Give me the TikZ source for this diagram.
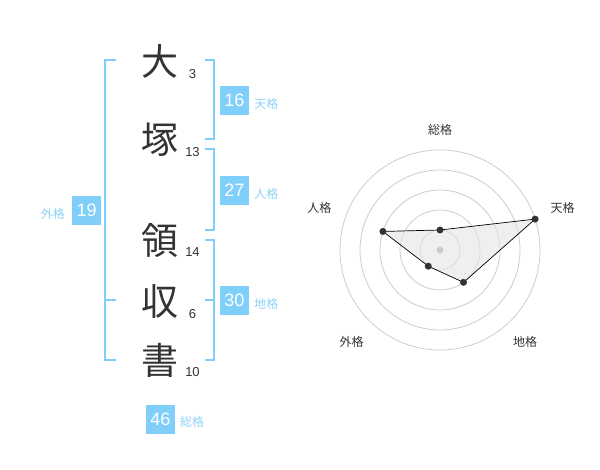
\documentclass[tikz,border=0pt]{standalone}
\usepackage{fontspec}
\setmainfont{Liberation Sans}
\newfontfamily\cjk{Noto Sans CJK JP}
\usetikzlibrary{positioning}
\definecolor{kakublue}{HTML}{80CFFB}
\definecolor{kakutext}{HTML}{8ED2F6}
\definecolor{ringgray}{HTML}{CCCCCC}
\definecolor{inkgray}{HTML}{333333}

\tikzset{
  kanji/.style={font=\cjk\fontsize{37}{37}\selectfont, text=inkgray, inner sep=0pt},
  strokes/.style={font=\fontsize{13}{13}\selectfont, text=inkgray, inner sep=0pt},
  kakubox/.style={fill=kakublue, text=white, minimum size=29pt, inner sep=0pt, font=\fontsize{18}{18}\selectfont},
  kakuname/.style={font=\cjk\fontsize{12}{12}\selectfont, text=kakutext, inner sep=0pt},
  bracket/.style={draw=kakublue, line width=2pt},
  ring/.style={draw=ringgray, line width=0.8pt},
  axisname/.style={font=\cjk\fontsize{12}{12}\selectfont, text=inkgray, inner sep=0pt},
}

\begin{document}
\begin{tikzpicture}[x=1pt,y=-1pt]
  \useasboundingbox (0,0) rectangle (600,470);

  % name and stroke counts
  \foreach \ch/\y/\n [count=\i] in {大/61.7/3, 塚/140/13, 領/240/14, 収/301.7/6, 書/360/10} {
    \node[kanji] (k\i) at (160,\y) {\ch};
    \node[strokes] (s\i) at (192.5,\y+12) {\n};
  }

  % brackets
  \draw[bracket] (116,60) -- (105,60) -- (105,360) -- (116,360);
  \draw[bracket] (105,300) -- (116,300);
  \draw[bracket] (205,60) -- (214,60) -- (214,139.3) -- (205,139.3);
  \draw[bracket] (205,149.3) -- (214,149.3) -- (214,230) -- (205,230);
  \draw[bracket] (205,240) -- (214,240) -- (214,360) -- (205,360);
  \draw[bracket] (205,300) -- (214,300);

  % scores
  \node[kakubox] (gai) at (86.7,210.3) {19};
  \node[kakuname, left=7pt of gai, yshift=-4pt] (gainame) {外格};
  \node[kakubox] (ten) at (234.5,100.3) {16};
  \node[kakuname, right=5pt of ten, yshift=-3.5pt] (tenname) {天格};
  \node[kakubox] (jin) at (234.5,190.3) {27};
  \node[kakuname, right=5pt of jin, yshift=-3.5pt] (jinname) {人格};
  \node[kakubox] (chi) at (234.5,300.3) {30};
  \node[kakuname, right=5pt of chi, yshift=-3.5pt] (chiname) {地格};
  \node[kakubox] (sou) at (160.3,419.2) {46};
  \node[kakuname, right=5pt of sou, yshift=-3pt] (souname) {総格};

  % radar chart
  \coordinate (c) at (440,250);
  \foreach \r in {20,40,...,100}
    \draw[ring] (c) circle[radius=\r pt];
  \foreach \v [count=\i from 0] in {20,100,40,20,60}
    \coordinate (p\i) at ([shift={(-90+72*\i:\v)}]c);
  \draw[fill=black!10, fill opacity=0.6, draw=black, line width=0.7pt]
    (p0) -- (p1) -- (p2) -- (p3) -- (p4) -- cycle;
  \fill[ringgray] (c) circle[radius=3.5pt];
  \foreach \i in {0,...,4}
    \fill[inkgray] (p\i) circle[radius=3.5pt];

  \node[axisname] (a0) at (440,130) {総格};
  \node[axisname] (a1) at (562.7,208.3) {天格};
  \node[axisname] (a2) at (525,341.7) {地格};
  \node[axisname] (a3) at (351.7,341.7) {外格};
  \node[axisname] (a4) at (319.3,208.3) {人格};
\end{tikzpicture}
\end{document}
